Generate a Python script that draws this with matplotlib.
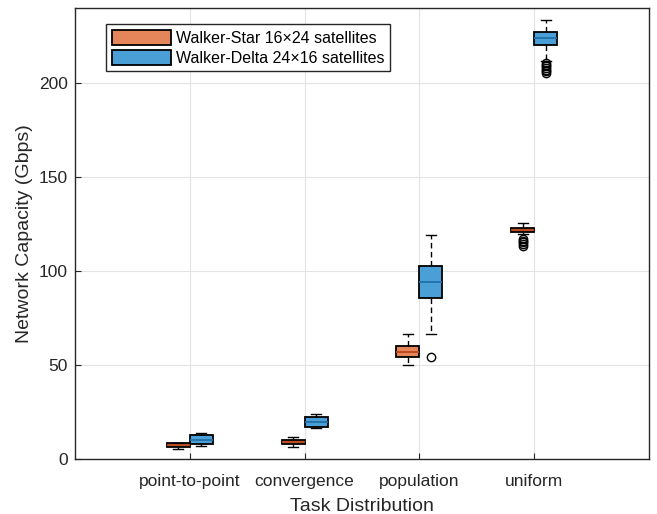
import matplotlib.pyplot as plt
import numpy as np

plt.rcParams['font.family'] = ['Liberation Sans', 'DejaVu Sans']

categories = ['point-to-point', 'convergence', 'population', 'uniform']
series = ['Walker-Star 16\u00d724 satellites', 'Walker-Delta 24\u00d716 satellites']

# Walker-Star box stats
star_q1 = [6.2, 8.0, 54.1, 120.9]
star_med = [7.3, 9.0, 57.1, 122.1]
star_q3 = [8.4, 10.1, 60.3, 123.2]
star_lo = [5.1, 6.5, 50.2, 119.6]
star_hi = [8.5, 11.7, 66.3, 125.9]
star_fliers = [[], [], [], [117.0, 116.2, 115.5, 114.5, 113.5]]

# Walker-Delta box stats
delta_q1 = [7.8, 17.2, 85.6, 220.4]
delta_med = [10.1, 19.7, 94.3, 224.0]
delta_q3 = [12.6, 22.2, 102.7, 227.5]
delta_lo = [6.9, 16.5, 66.5, 212.0]
delta_hi = [13.8, 24.1, 119.3, 233.5]
delta_fliers = [[], [], [54.4], [211.0, 210.0, 209.0, 208.0, 207.2, 206.5, 205.5]]

colors = ['#E5855A', '#4A9FD6']
median_colors = ['#B8451A', '#1F6FA8']


def make_stats(q1, med, q3, lo, hi, fl):
    return [dict(q1=a, med=b, q3=c, whislo=d, whishi=e, fliers=f)
            for a, b, c, d, e, f in zip(q1, med, q3, lo, hi, fl)]


fig = plt.figure(figsize=(6.57, 5.14), dpi=100)
ax = fig.add_axes([0.114, 0.107, 0.874, 0.877])

x = np.arange(1, len(categories) + 1)
groups = [make_stats(star_q1, star_med, star_q3, star_lo, star_hi, star_fliers),
          make_stats(delta_q1, delta_med, delta_q3, delta_lo, delta_hi, delta_fliers)]
offsets = [-0.1, 0.1]
handles = []
for stats, off, col, mcol in zip(groups, offsets, colors, median_colors):
    bp = ax.bxp(stats, positions=x + off, widths=0.2, patch_artist=True,
                showfliers=True, manage_ticks=False,
                boxprops=dict(facecolor=col, edgecolor='black', linewidth=1.3),
                medianprops=dict(color=mcol, linewidth=1.3),
                whiskerprops=dict(color='black', linewidth=1.0, linestyle=(0, (4, 2.5))),
                capprops=dict(color='black', linewidth=1.0),
                flierprops=dict(marker='o', markerfacecolor='none',
                                markeredgecolor='black', markersize=6,
                                markeredgewidth=1.0))
    for cap in bp['caps']:
        c = cap.get_xdata().mean()
        cap.set_xdata([c - 0.045, c + 0.045])
    handles.append(bp['boxes'][0])

ax.set_xlim(0, 5)
ax.set_ylim(0, 240)
ax.set_xticks(x)
ax.set_xticklabels(categories)
ax.set_yticks([0, 50, 100, 150, 200])
ax.grid(True, color='#E3E3E3', linewidth=0.8)
ax.set_axisbelow(True)
ax.tick_params(direction='in', length=4, labelsize=12.5, colors='#262626')
ax.tick_params(axis='x', pad=11)
ax.tick_params(axis='y', pad=5)
for s in ax.spines.values():
    s.set_color('#262626')
    s.set_linewidth(1.0)
ax.set_xlabel('Task Distribution', fontsize=14, color='#262626', labelpad=6)
ax.set_ylabel('Network Capacity (Gbps)', fontsize=14, color='#262626', labelpad=4)

leg = ax.legend(handles, series, loc='upper left', bbox_to_anchor=(0.055, 0.965),
                fontsize=11.5, fancybox=False, framealpha=1, edgecolor='#262626',
                handlelength=3.7, handleheight=1.1, handletextpad=0.3,
                borderpad=0.35, labelspacing=0.25, borderaxespad=0)
leg.get_frame().set_linewidth(1.0)

fig.savefig('out.png', dpi=100)
